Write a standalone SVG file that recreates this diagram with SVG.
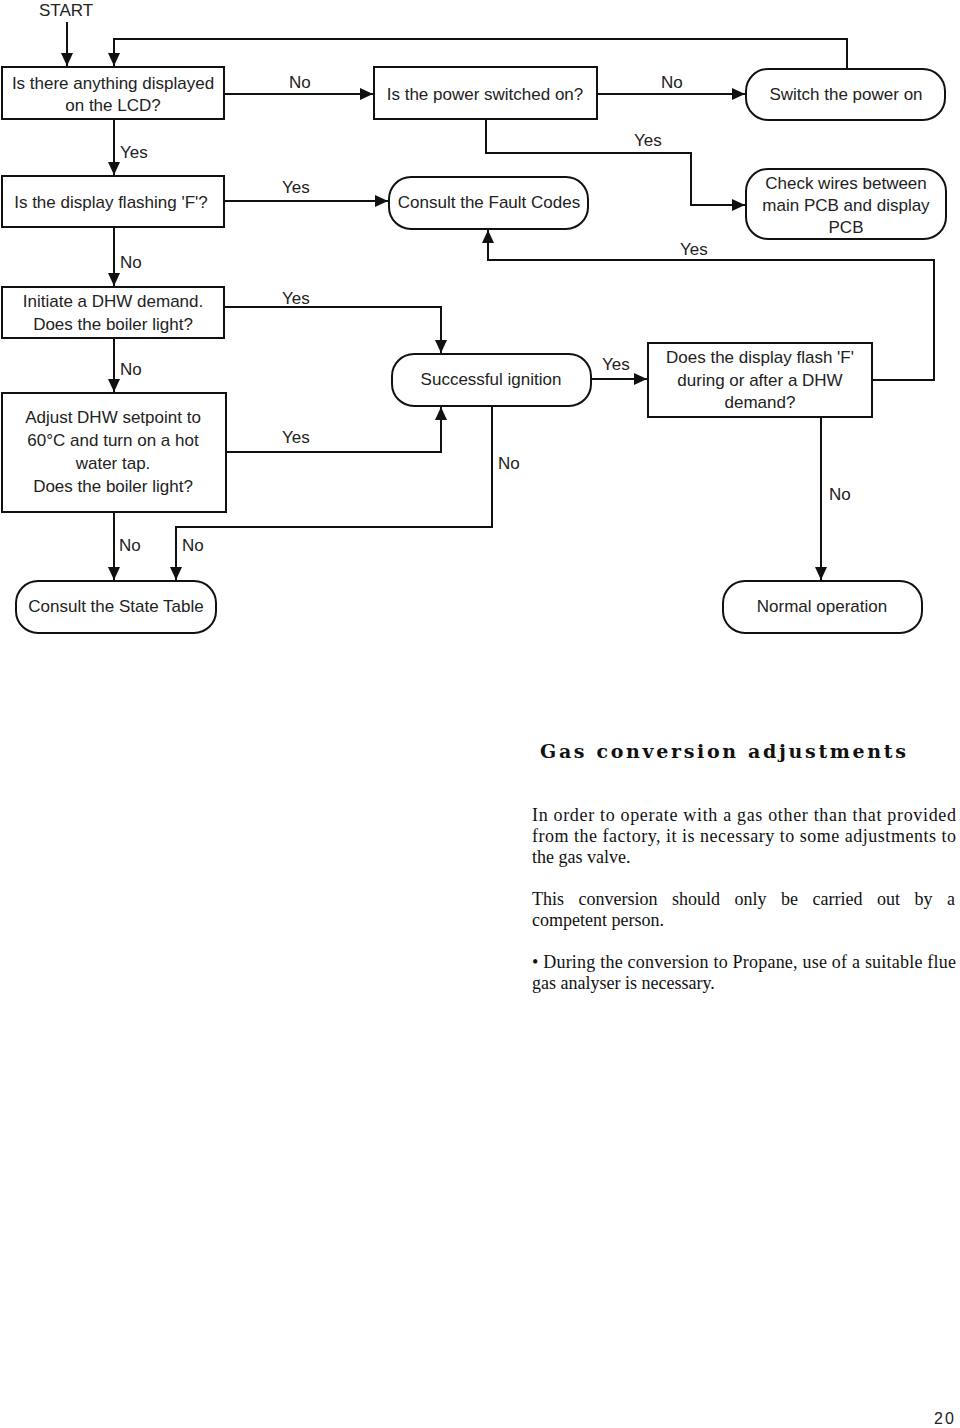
<svg xmlns="http://www.w3.org/2000/svg" width="960" height="1428" viewBox="0 0 960 1428">
<defs>
<marker id="arr" markerUnits="userSpaceOnUse" markerWidth="14" markerHeight="14" viewBox="0 0 14 14" refX="13" refY="7" orient="auto">
<path d="M0,1 L13,7 L0,13 Z" fill="#111"/>
</marker>
</defs>
<style>
.box{fill:#fff;stroke:#111;stroke-width:2}
.t{font-family:"Liberation Sans",Arial,sans-serif;font-size:17px;fill:#222;text-anchor:middle}
.lbl{font-family:"Liberation Sans",Arial,sans-serif;font-size:17px;fill:#222}
.c{fill:none;stroke:#111;stroke-width:2}
.a{marker-end:url(#arr)}
.body{font-family:"Liberation Serif","Times New Roman",serif;font-size:18px;fill:#111}
.title{font-family:"DejaVu Serif","Liberation Serif",serif;font-size:19px;font-weight:bold;fill:#111}
</style>
<rect width="960" height="1428" fill="#fff"/>

<text class="t" x="66" y="16">START</text>

<g id="connectors">
<path class="c a" d="M67,22 V66"/>
<path class="c a" d="M847,69 V39 H114 V66"/>
<path class="c a" d="M224,94 H373"/>
<path class="c a" d="M597,94 H745"/>
<path class="c a" d="M486,119 V153 H691 V205 H745"/>
<path class="c a" d="M114,119 V175"/>
<path class="c a" d="M224,201 H388"/>
<path class="c a" d="M114,227 V286"/>
<path class="c a" d="M224,307 H441 V353"/>
<path class="c a" d="M114,338 V392"/>
<path class="c a" d="M226,452 H441 V407"/>
<path class="c a" d="M591,379 H647"/>
<path class="c a" d="M872,380 H934 V260 H488 V230"/>
<path class="c a" d="M492,406 V527 H176 V580"/>
<path class="c a" d="M114,512 V580"/>
<path class="c a" d="M821,417 V580"/>
<text class="lbl" x="289" y="88">No</text>
<text class="lbl" x="661" y="88">No</text>
<text class="lbl" x="634" y="146">Yes</text>
<text class="lbl" x="120" y="158">Yes</text>
<text class="lbl" x="282" y="193">Yes</text>
<text class="lbl" x="680" y="255">Yes</text>
<text class="lbl" x="120" y="268">No</text>
<text class="lbl" x="282" y="304">Yes</text>
<text class="lbl" x="602" y="370">Yes</text>
<text class="lbl" x="120" y="375">No</text>
<text class="lbl" x="282" y="443">Yes</text>
<text class="lbl" x="498" y="469">No</text>
<text class="lbl" x="829" y="500">No</text>
<text class="lbl" x="119" y="551">No</text>
<text class="lbl" x="182" y="551">No</text>
</g>

<g id="n-lcd">
<rect class="box" x="2" y="67" width="222" height="52"/>
<text class="t" x="113" y="89">Is there anything displayed</text>
<text class="t" x="113" y="111">on the LCD?</text>
</g>
<g id="n-power">
<rect class="box" x="374" y="67" width="223" height="52"/>
<text class="t" x="485" y="100">Is the power switched on?</text>
</g>
<g id="n-switch">
<rect class="box" x="746" y="69" width="199" height="51" rx="22"/>
<text class="t" x="846" y="100">Switch the power on</text>
</g>
<g id="n-check">
<rect class="box" x="746" y="169" width="200" height="70" rx="22"/>
<text class="t" x="846" y="189">Check wires between</text>
<text class="t" x="846" y="211">main PCB and display</text>
<text class="t" x="846" y="233">PCB</text>
</g>
<g id="n-flash">
<rect class="box" x="2" y="176" width="222" height="51"/>
<text class="t" x="111" y="208">Is the display flashing 'F'?</text>
</g>
<g id="n-fault">
<rect class="box" x="389" y="177" width="199" height="52" rx="22"/>
<text class="t" x="489" y="208">Consult the Fault Codes</text>
</g>
<g id="n-dhw">
<rect class="box" x="2" y="287" width="222" height="51"/>
<text class="t" x="113" y="307">Initiate a DHW demand.</text>
<text class="t" x="113" y="330">Does the boiler light?</text>
</g>
<g id="n-adjust">
<rect class="box" x="2" y="393" width="224" height="119"/>
<text class="t" x="113" y="423">Adjust DHW setpoint to</text>
<text class="t" x="113" y="446">60°C and turn on a hot</text>
<text class="t" x="113" y="469">water tap.</text>
<text class="t" x="113" y="492">Does the boiler light?</text>
</g>
<g id="n-ignition">
<rect class="box" x="392" y="354" width="199" height="52" rx="22"/>
<text class="t" x="491" y="385">Successful ignition</text>
</g>
<g id="n-flashf">
<rect class="box" x="648" y="343" width="224" height="74"/>
<text class="t" x="760" y="363">Does the display flash 'F'</text>
<text class="t" x="760" y="386">during or after a DHW</text>
<text class="t" x="760" y="408">demand?</text>
</g>
<g id="n-state">
<rect class="box" x="16" y="581" width="200" height="52" rx="22"/>
<text class="t" x="116" y="612">Consult the State Table</text>
</g>
<g id="n-normal">
<rect class="box" x="723" y="581" width="199" height="52" rx="22"/>
<text class="t" x="822" y="612">Normal operation</text>
</g>

<text class="title" x="540" y="758" textLength="366" lengthAdjust="spacing">Gas conversion adjustments</text>
<text class="body" x="532" y="821" textLength="424" lengthAdjust="spacing">In order to operate with a gas other than that provided</text>
<text class="body" x="532" y="842" textLength="424" lengthAdjust="spacing">from the factory, it is necessary to some adjustments to</text>
<text class="body" x="532" y="863">the gas valve.</text>
<text class="body" x="532" y="905" word-spacing="10">This conversion should only be carried out by a</text>
<text class="body" x="532" y="926">competent person.</text>
<text class="body" x="532" y="968" textLength="424" lengthAdjust="spacing">• During the conversion to Propane, use of a suitable flue</text>
<text class="body" x="532" y="989">gas analyser is necessary.</text>
<text x="934" y="1424" font-family="'Liberation Sans',Arial,sans-serif" font-size="16" letter-spacing="2" fill="#222">20</text>
</svg>
